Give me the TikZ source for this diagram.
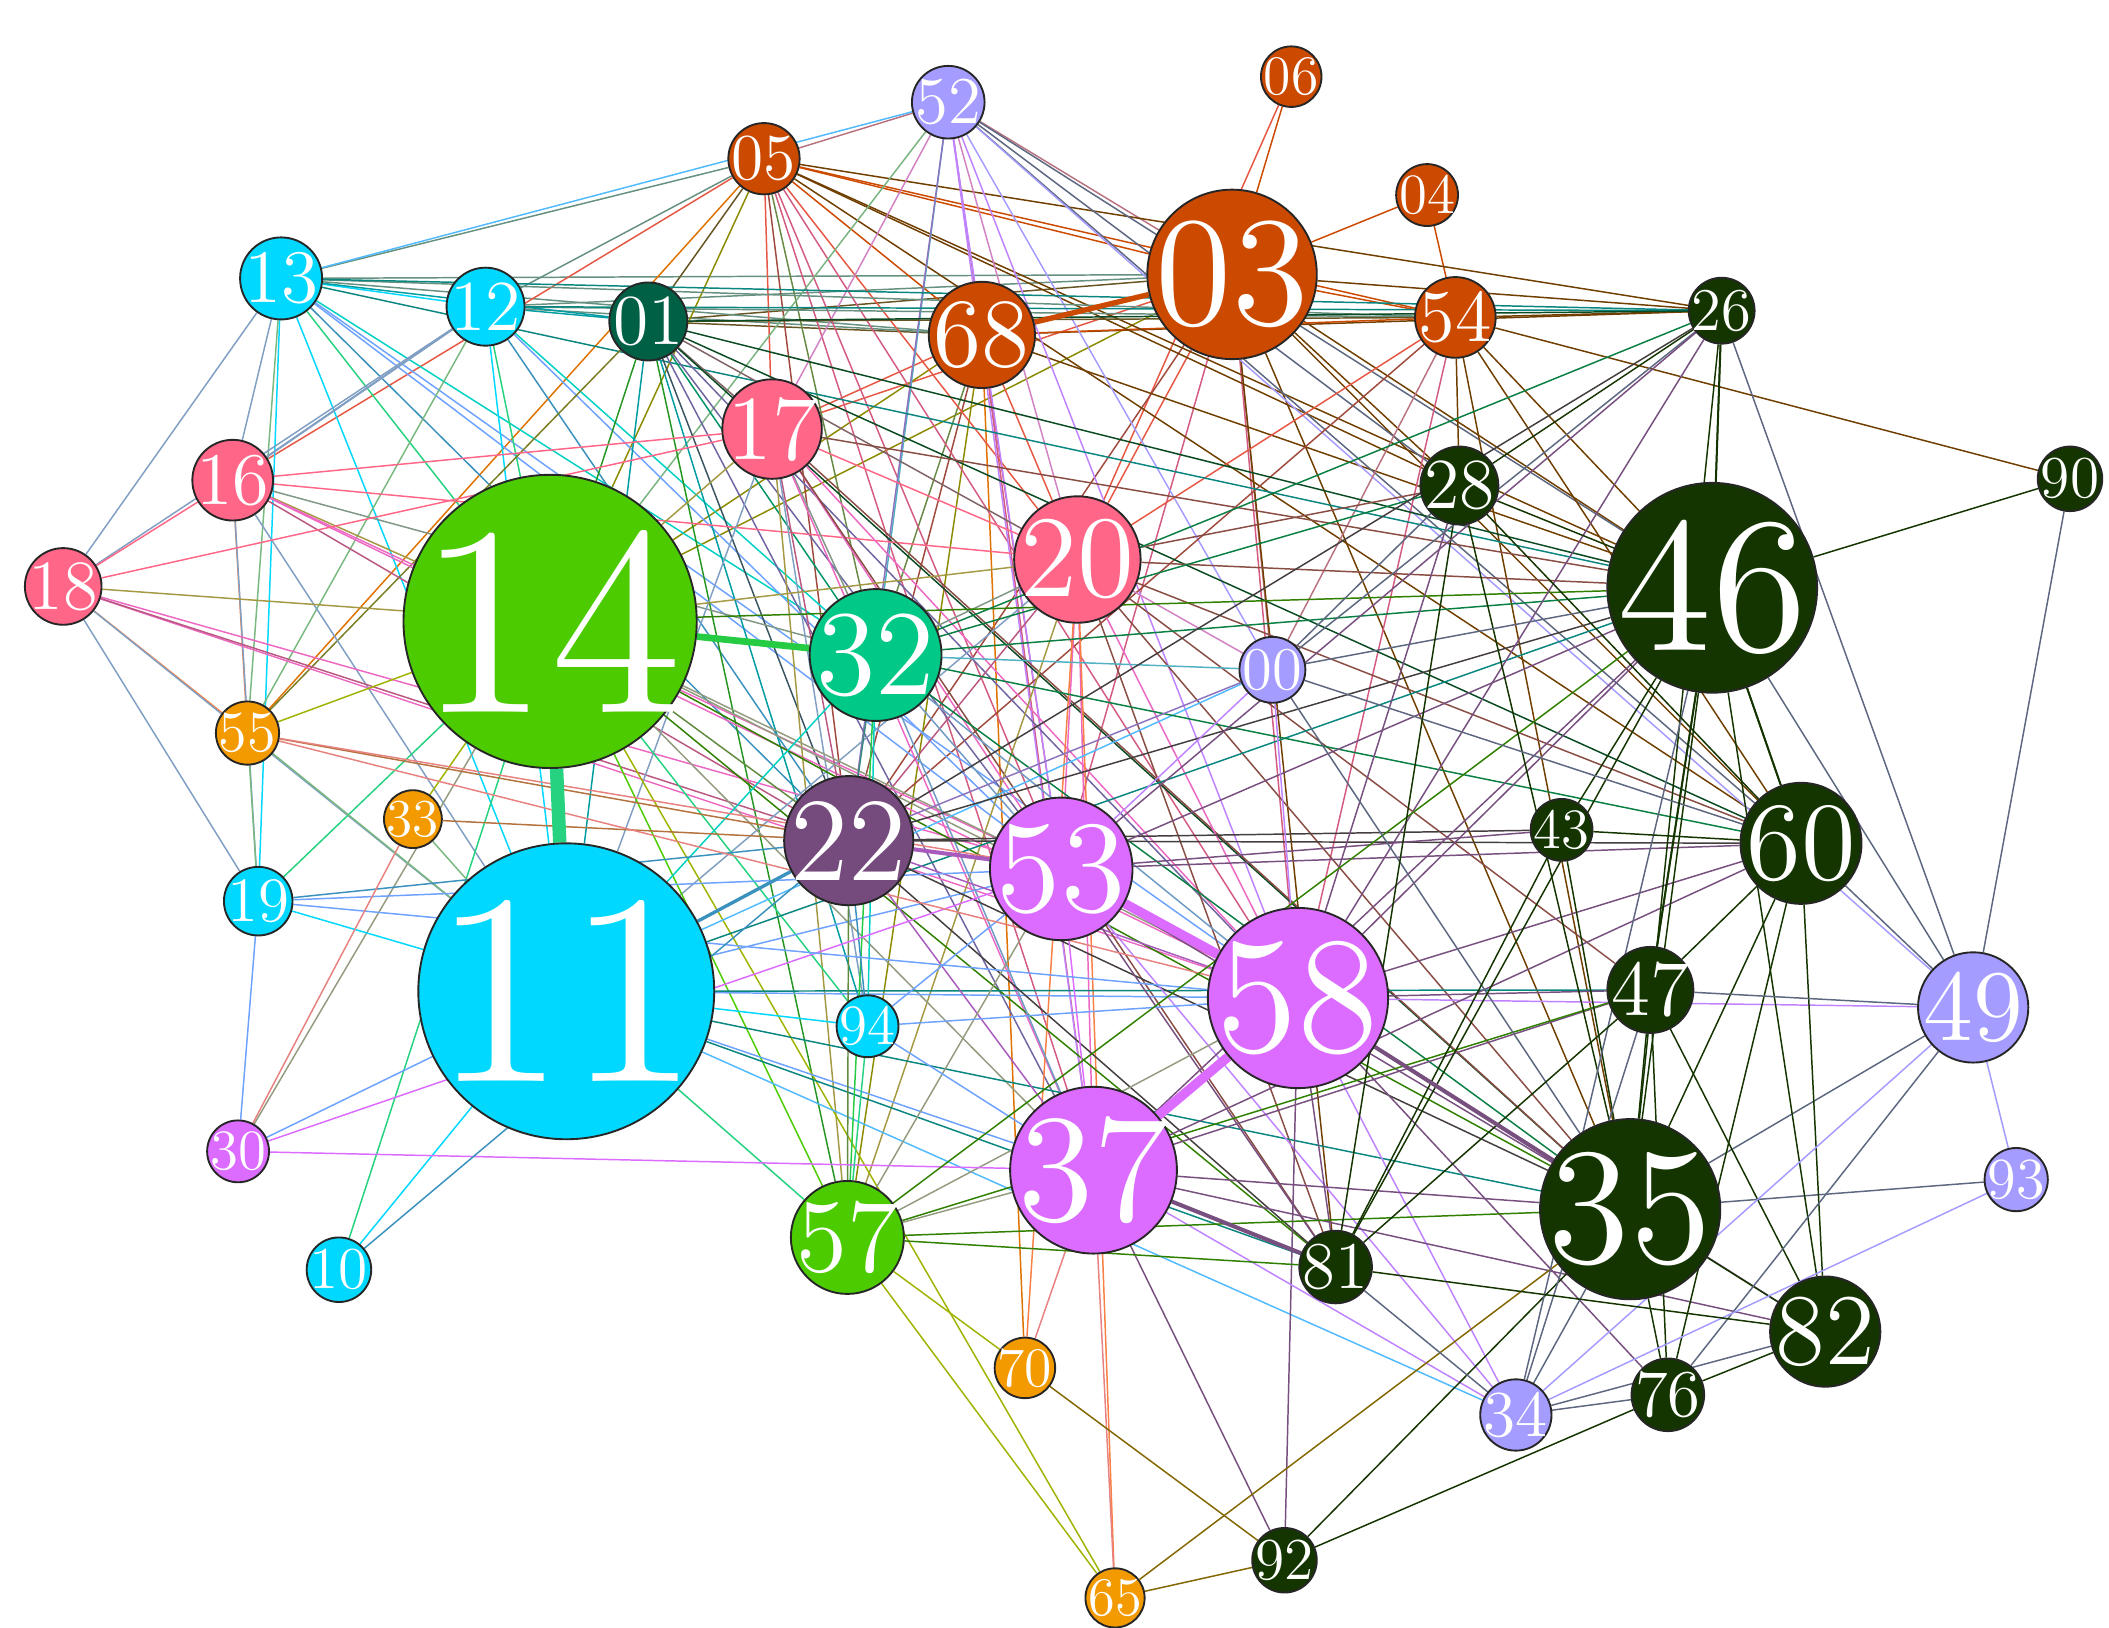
\documentclass[tikz,border=0pt]{standalone}
\usepackage{fontspec}
\setmainfont{lmroman12-regular}[Extension=.otf]
\usetikzlibrary{backgrounds}

% group colours
\definecolor{kOrb}{HTML}{CC4A00}
\definecolor{kCyan}{HTML}{00D8FF}
\definecolor{kDteal}{HTML}{006046}
\definecolor{kPink}{HTML}{FF6688}
\definecolor{kLgreen}{HTML}{4CCC00}
\definecolor{kTeal}{HTML}{00C987}
\definecolor{kLav}{HTML}{A59CFF}
\definecolor{kOrange}{HTML}{F39A00}
\definecolor{kPlum}{HTML}{754A7C}
\definecolor{kViolet}{HTML}{DC6BFF}
\definecolor{kDgreen}{HTML}{143500}

\tikzset{
  vert/.style={circle, draw=black!85, line width=0.7pt, inner sep=0pt, text=white},
  edge/.style={line width=0.55pt},
}

% \vtx{label}{x}{y}{radius}{colour}: a vertex whose label scales with its radius
\newcommand\vtx[5]{%
  \pgfmathsetmacro\vfs{0.92*#4}%
  \pgfmathsetmacro\vdm{#4}%
  \colorlet{c#1}{#5}%
  \node[vert, fill=#5, minimum size=\vdm pt,
        font={\fontsize{\vfs pt}{\vfs pt}\selectfont}] (v#1) at (#2,#3) {\makebox[0pt]{#1}};}

\begin{document}
\begin{tikzpicture}[x=0.5pt, y=-0.5pt]
\useasboundingbox (0,0) rectangle (1568,1210);

\vtx{52}{705}{76}{27}{kLav}
\vtx{06}{960}{57}{22.5}{kOrb}
\vtx{05}{568}{118}{26.5}{kOrb}
\vtx{04}{1061}{145}{23}{kOrb}
\vtx{03}{916}{204}{63}{kOrb}
\vtx{13}{209}{207}{30.5}{kCyan}
\vtx{12}{361}{228}{29}{kCyan}
\vtx{01}{482}{239}{29}{kDteal}
\vtx{68}{730}{249}{39.5}{kOrb}
\vtx{54}{1082}{236}{30}{kOrb}
\vtx{26}{1280}{231}{24.5}{kDgreen}
\vtx{17}{574}{319}{37}{kPink}
\vtx{16}{173}{357}{30}{kPink}
\vtx{28}{1085}{361}{29}{kDgreen}
\vtx{90}{1539}{356}{24}{kDgreen}
\vtx{18}{47}{436}{28.5}{kPink}
\vtx{14}{409}{462}{109}{kLgreen}
\vtx{20}{801}{416}{47}{kPink}
\vtx{46}{1273}{437}{78}{kDgreen}
\vtx{32}{651}{487}{49}{kTeal}
\vtx{00}{946}{498}{24.5}{kLav}
\vtx{55}{184}{545}{23.5}{kOrange}
\vtx{33}{307}{609}{21.5}{kOrange}
\vtx{22}{631}{625}{48}{kPlum}
\vtx{53}{789}{646}{53}{kViolet}
\vtx{43}{1161}{617}{23}{kDgreen}
\vtx{60}{1339}{627}{45}{kDgreen}
\vtx{19}{192}{670}{25.5}{kCyan}
\vtx{11}{421}{737}{110}{kCyan}
\vtx{58}{965}{742}{67}{kViolet}
\vtx{47}{1227}{736}{32}{kDgreen}
\vtx{49}{1467}{749}{41}{kLav}
\vtx{94}{645}{763}{23}{kCyan}
\vtx{30}{177}{856}{23}{kViolet}
\vtx{37}{813}{870}{62}{kViolet}
\vtx{57}{630}{920}{42}{kLgreen}
\vtx{35}{1212}{899}{67}{kDgreen}
\vtx{93}{1499}{877}{23.5}{kLav}
\vtx{81}{993}{942}{27}{kDgreen}
\vtx{10}{252}{944}{24}{kCyan}
\vtx{82}{1357}{990}{41}{kDgreen}
\vtx{70}{762}{1017}{22.5}{kOrange}
\vtx{34}{1127}{1052}{26.5}{kLav}
\vtx{76}{1240}{1037}{27}{kDgreen}
\vtx{92}{955}{1160}{24}{kDgreen}
\vtx{65}{829}{1188}{22}{kOrange}

\begin{pgfonlayer}{background}
% ordinary links, coloured as a blend of their two end colours
\foreach \a/\b in {
  03/06,06/20,03/04,04/54,03/54,03/05,03/52,03/12,03/13,03/01,03/26,03/20,03/28,03/46,03/60,
  03/58,03/00,03/35,03/53,03/81,03/14,03/17,03/22,
  68/05,68/52,68/01,68/12,68/13,68/26,68/54,68/20,68/17,68/14,68/22,68/32,68/46,68/70,68/37,
  68/53,68/57,
  05/13,05/12,05/16,05/52,05/55,05/01,05/17,05/14,05/32,05/22,05/53,05/20,05/58,05/54,05/26,
  05/28,05/46,05/60,05/37,
  52/13,52/17,52/14,52/32,52/22,52/53,52/58,52/20,52/00,52/46,52/28,52/60,52/37,52/49,
  54/26,54/13,54/12,54/01,54/28,54/46,54/60,54/20,54/58,54/00,54/35,54/90,54/22,
  13/12,13/01,13/16,13/18,13/19,13/55,13/14,13/11,13/32,13/22,13/53,13/58,13/26,13/46,
  12/01,12/26,12/16,12/18,12/14,12/11,12/22,12/53,12/32,12/55,
  01/26,01/14,01/11,01/17,01/22,01/32,01/53,01/58,01/37,01/57,01/94,01/46,01/60,01/35,01/20,01/55,
  16/18,16/14,16/55,16/19,16/11,16/32,16/53,16/22,16/58,16/17,16/20,
  18/14,18/55,18/19,18/53,18/58,18/22,18/17,18/11,
  17/14,17/11,17/20,17/32,17/22,17/53,17/58,17/37,17/57,17/94,17/35,17/81,17/46,
  20/14,20/11,20/32,20/22,20/53,20/58,20/37,20/00,20/46,20/60,20/47,20/35,20/81,20/57,20/70,
  20/65,20/28,
  14/55,14/33,14/19,14/22,14/53,14/58,14/37,14/57,14/94,14/46,14/35,14/81,14/65,14/10,14/30,
  11/19,11/30,11/10,11/33,11/55,11/32,11/53,11/58,11/37,11/57,11/94,11/00,11/46,11/47,
  11/35,11/81,11/34,
  32/22,32/53,32/58,32/94,32/57,32/37,32/46,32/00,32/60,32/35,32/26,32/28,
  22/58,22/37,22/57,22/94,22/43,22/60,22/46,22/35,22/81,22/19,22/33,22/55,
  53/37,53/57,53/43,53/60,53/46,53/35,53/81,53/94,53/19,53/55,53/30,53/34,
  58/00,58/46,58/60,58/47,58/49,58/82,58/81,58/34,58/92,58/57,58/94,58/19,58/55,58/28,
  58/26,58/76,
  37/30,37/57,37/70,37/65,37/92,37/35,37/47,37/46,37/60,37/82,37/34,37/94,
  57/94,57/81,57/70,57/65,57/47,57/35,57/46,
  35/46,35/60,35/47,35/43,35/28,35/26,35/82,35/76,35/34,35/93,35/49,35/92,35/65,35/00,
  46/26,46/28,46/90,46/49,46/60,46/47,46/82,46/43,46/00,46/34,46/81,
  60/43,60/47,60/82,60/49,60/76,60/28,60/00,
  47/82,47/49,47/76,47/81,47/34,
  49/26,49/90,49/93,49/34,49/76,
  93/34,82/76,82/81,82/34,76/34,76/92,81/34,81/28,81/43,92/65,92/70,
  28/26,28/00,26/00,26/22,26/53,00/22,00/53,30/33,10/22,30/19,19/55}
  \draw[edge, draw=c\a!50!c\b] (v\a) -- (v\b);

% heavier links
\foreach \a/\b/\w in {14/11/10, 14/32/5, 03/68/4, 53/58/7, 58/37/7, 22/53/3,
  37/81/3, 58/35/3, 11/22/2.5, 46/26/1.5, 46/60/1.5, 46/47/1.5, 12/16/1.5}
  \draw[line width=\w*0.5pt, draw=c\a!50!c\b] (v\a) -- (v\b);
\end{pgfonlayer}
\end{tikzpicture}
\end{document}
